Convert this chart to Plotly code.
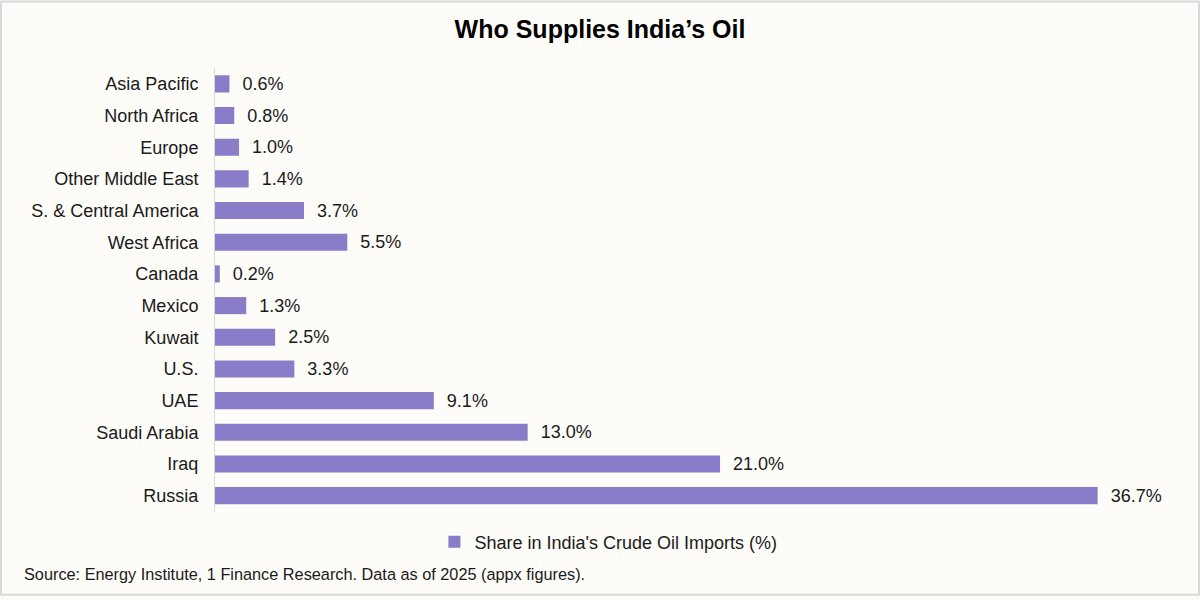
import plotly.graph_objects as go

categories = ["Asia Pacific", "North Africa", "Europe", "Other Middle East",
              "S. & Central America", "West Africa", "Canada", "Mexico",
              "Kuwait", "U.S.", "UAE", "Saudi Arabia", "Iraq", "Russia"]
shares = [0.6, 0.8, 1.0, 1.4, 3.7, 5.5, 0.2, 1.3, 2.5, 3.3, 9.1, 13.0, 21.0, 36.7]
series_name = "Share in India's Crude Oil Imports (%)"
title_text = "Who Supplies India\u2019s Oil"
source_text = "Source: Energy Institute, 1 Finance Research. Data as of 2025 (appx figures)."

W, H = 1200, 600
ML, MR, MT, MB = 215, 23, 68, 85
PW, PH = W - ML - MR, H - MT - MB

def px_x(p):
    return (p - ML) / PW

def px_y(p):
    return (H - MB - p) / PH

bar_color = "#8A7CC8"
font_family = "Liberation Sans, Arial, sans-serif"

fig = go.Figure()
fig.add_trace(go.Bar(
    y=categories,
    x=shares,
    orientation="h",
    name=series_name,
    marker=dict(color=bar_color, line=dict(width=0)),
    width=0.54,
    text=[f"\u00a0\u00a0{v:.1f}%" for v in shares],
    textposition="outside",
    constraintext="none",
    textfont=dict(family=font_family, size=18, color="#1a1a1a"),
    cliponaxis=False,
    showlegend=True,
))

fig.update_layout(
    width=W, height=H,
    margin=dict(l=ML, r=MR, t=MT, b=MB),
    paper_bgcolor="#FDFCF8",
    plot_bgcolor="#FDFCF8",
    font=dict(family=font_family, size=18, color="#1a1a1a"),
    title=dict(text="<b>" + title_text + "</b>", x=0.5, xanchor="center",
               xref="container", y=1 - 29 / H, yanchor="middle", yref="container",
               font=dict(size=25, color="#000000", family=font_family)),
    xaxis=dict(range=[0, 40], showticklabels=False, showgrid=False,
               zeroline=False, showline=False, fixedrange=True),
    yaxis=dict(autorange="reversed", showgrid=False, zeroline=False,
               showline=True, linecolor="#D9D9D9", linewidth=1,
               ticks="", ticklabelstandoff=12,
               tickfont=dict(size=18, color="#1a1a1a", family=font_family)),
    legend=dict(orientation="h", x=0.362, xanchor="left", xref="container",
                y=1 - 542 / H, yanchor="middle", yref="container",
                font=dict(size=18, color="#1a1a1a", family=font_family),
                itemwidth=30, bgcolor="rgba(0,0,0,0)"),
    showlegend=True,
)

fig.add_annotation(
    text=source_text, xref="paper", yref="paper",
    x=px_x(22), y=px_y(578), xanchor="left", yanchor="middle",
    showarrow=False, font=dict(size=16.3, color="#1a1a1a", family=font_family),
)

fig.add_shape(
    type="rect", xref="paper", yref="paper",
    x0=px_x(1), x1=px_x(W - 1), y0=px_y(H - 1), y1=px_y(1),
    line=dict(color="#D9D9D9", width=2), fillcolor="rgba(0,0,0,0)", layer="below",
)

fig.write_html("out.html",
               config={"displayModeBar": False},
               post_script="document.body.style.margin='0';document.body.style.padding='0';")
